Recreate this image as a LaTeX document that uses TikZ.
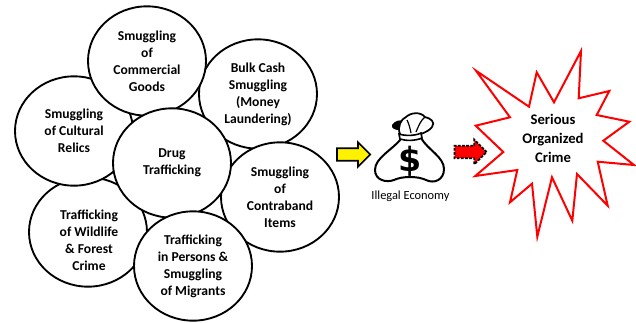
\documentclass[tikz,border=0pt]{standalone}
\usepackage{fontspec}
\setmainfont{Carlito}
\newfontfamily\dollarfont{DejaVu Sans}
\usetikzlibrary{shapes.geometric, shapes.arrows}

\tikzset{
    crime/.style={ellipse, draw=black, fill=white, line width=1.4pt, minimum width=88.5pt, minimum height=82pt, inner sep=0pt, align=center, font=\bfseries\fontsize{10.2}{12.8}\selectfont},
    caption/.style={align=center, inner sep=0pt, font=\bfseries\fontsize{10.2}{12.8}\selectfont},
    flow/.style={single arrow, line width=1.3pt, draw=black, inner xsep=0pt, inner ysep=4pt, single arrow head extend=4.6pt, minimum height=25pt, single arrow head indent=0pt}
}

\begin{document}
\begin{tikzpicture}[x=0.75pt, y=-0.75pt]
    \useasboundingbox (0, 0) rectangle (636, 322);
    \node[crime] (bulk) at (258, 94) {Bulk Cash\\Smuggling\\(Money\\Laundering)};
    \node[crime] (wildlife) at (88, 232) {};
    \node[crime] (cultural) at (74, 131) {Smuggling\\of Cultural\\Relics};
    \node[crime] (commercial) at (147, 61) {Smuggling\\of\\Commercial\\Goods};
    \node[crime] (contraband) at (280, 197) {Smuggling\\of\\Contraband\\Items};
    \node[crime] (drug) at (172, 163) {Drug\\Trafficking};
    \node[crime] (persons) at (193, 266) {Trafficking\\in Persons \&\\Smuggling\\of Migrants};
    \node[caption] (wildlifetext) at (89, 240) {Trafficking\\of Wildlife\\\& Forest\\Crime};

    \node[flow, fill=yellow] (inarrow) at (350.5, 154.5) {};
    \node[flow, fill=red, dash pattern=on 2pt off 1.1pt, minimum height=24pt] (outarrow) at (467.5, 152) {};

    % money bag
    \draw[line width=1.5pt, fill=white, line join=round] (401, 139) .. controls (392, 150) and (375, 158) .. (375, 170)
        .. controls (375, 180) and (386, 183) .. (394, 180) .. controls (402, 176) and (418, 176) .. (426, 180)
        .. controls (434, 184) and (444, 180) .. (444, 169) .. controls (444, 157) and (428, 150) .. (421, 138);
    \fill[black] (392, 125) .. controls (394, 121) and (401, 119) .. (405, 121) .. controls (400, 124) and (399, 128) .. (398, 130) .. controls (395, 130) and (391, 128) .. (392, 125);
    \draw[line width=1.3pt, fill=white, line join=round] (400, 134) .. controls (397, 127) and (401, 119) .. (406, 117)
        .. controls (410, 113) and (420, 111) .. (425, 117) .. controls (430, 118) and (436, 122) .. (432, 127)
        .. controls (430, 130) and (426, 132) .. (421, 134);
    \draw[line width=0.9pt] (407, 120) .. controls (409, 124) and (410, 128) .. (411, 133);
    \draw[line width=0.9pt] (425, 117) .. controls (421, 120) and (419, 125) .. (416, 132);
    \draw[line width=1.2pt, fill=white] (399, 134) .. controls (405, 136) and (415, 136) .. (421, 133) -- (422, 138) .. controls (415, 141) and (406, 141) .. (400, 139) -- cycle;
    \node[inner sep=0pt, font=\dollarfont\bfseries\fontsize{25}{25}\selectfont] (dollar) at (410.5, 161) {\$};
    \node[inner sep=0pt, font=\fontsize{9.3}{10}\selectfont] (economy) at (410.5, 196) {Illegal Economy};

    % burst
    \draw[red, line width=1.5pt, fill=white, miter limit=20] (476, 70.7) -- (529, 106.7) -- (536.7, 72.3) -- (554, 102.3) -- (581, 51)
        -- (578.7, 98.3) -- (609.3, 91) -- (596.7, 115) -- (629.3, 121.7) -- (603.3, 140.7) -- (634, 165)
        -- (597.7, 161.7) -- (607.7, 205.7) -- (577, 174) -- (572.3, 220.7) -- (552, 177.3) -- (537.3, 236.7)
        -- (532, 183.7) -- (510, 202.3) -- (517.3, 170) -- (475.3, 176) -- (503.3, 152) -- (475.7, 125.7) -- (510, 117.3) -- cycle;
    \node[caption, font=\bfseries\fontsize{11}{14.4}\selectfont] (organized) at (553, 138.5) {Serious\\Organized\\Crime};
\end{tikzpicture}
\end{document}
